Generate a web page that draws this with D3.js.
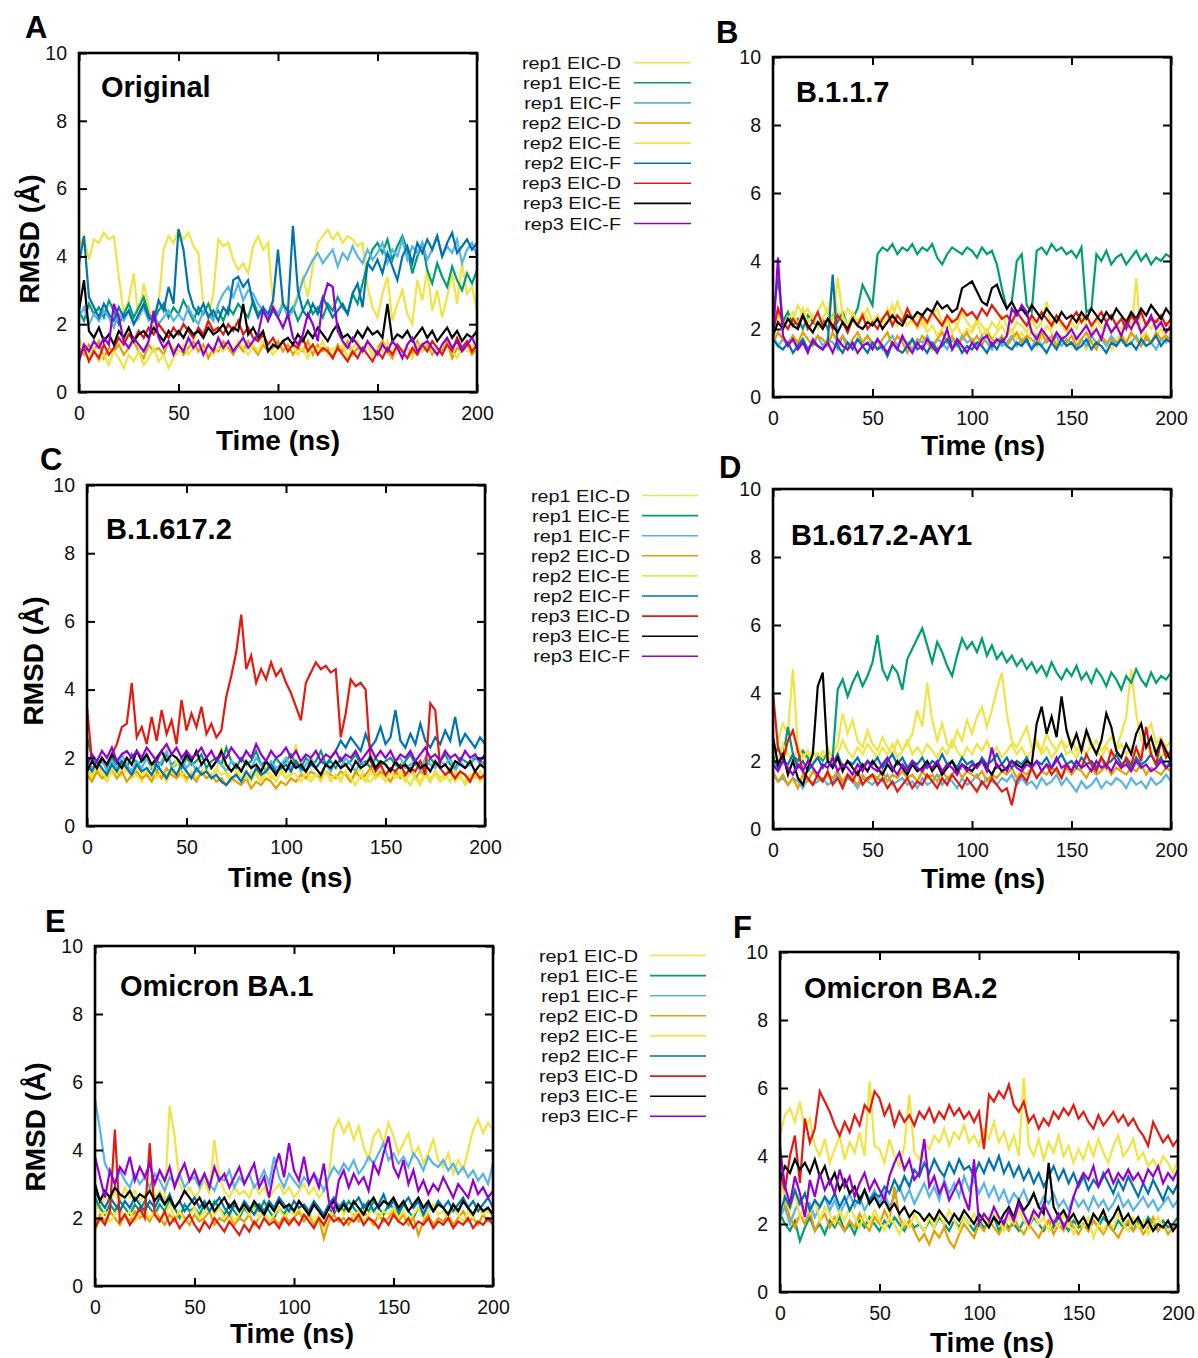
<!DOCTYPE html>
<html><head><meta charset="utf-8">
<script src="https://cdn.jsdelivr.net/npm/d3@7"></script>
<style>
body{margin:0;background:#fff;}
svg{display:block;font-family:"Liberation Sans",Arial,Helvetica,sans-serif;}
</style>
</head><body>
<svg id="chart" width="1198" height="1358"></svg>
<script>
// ---------------- data ----------------
const time = [0,2.5,5,7.5,10,12.5,15,17.5,20,22.5,25,27.5,30,32.5,35,37.5,40,42.5,45,47.5,
50,52.5,55,57.5,60,62.5,65,67.5,70,72.5,75,77.5,80,82.5,85,87.5,90,92.5,95,97.5,
100,102.5,105,107.5,110,112.5,115,117.5,120,122.5,125,127.5,130,132.5,135,137.5,140,142.5,145,147.5,
150,152.5,155,157.5,160,162.5,165,167.5,170,172.5,175,177.5,180,182.5,185,187.5,190,192.5,195,197.5,200];
const seriesNames = ["rep1 EIC-D","rep1 EIC-E","rep1 EIC-F","rep2 EIC-D","rep2 EIC-E","rep2 EIC-F","rep3 EIC-D","rep3 EIC-E","rep3 EIC-F"];
const seriesColors = ["#f0e442","#009e73","#56b4e9","#e69f00","#f0e442","#0072b2","#e41a10","#000000","#9400d3"];
const xTickValues = [0,50,100,150,200];
const yTickValues = [0,2,4,6,8,10];
const panelLetters = ["A","B","C","D","E","F"];
const panelTitles = ["Original","B.1.1.7","B.1.617.2","B1.617.2-AY1","Omicron BA.1","Omicron BA.2"];

// Panel A - Original
const A_rep1D = [4.3,4.6,3.9,4.5,4.4,4.7,4.5,4.6,3.4,2.3, 2.7,3.5,2.1,3.2,2.5,2.0,2.6,4.2,4.6,4.4, 4.8,4.5,4.7,4.3,4.1,2.6,2.2,2.9,4.5,4.3, 4.4,3.9,3.6,3.8,3.5,4.3,4.6,4.2,4.4,2.6, 2.3,2.7,2.2,2.5,2.9,3.4,2.8,3.7,4.4,4.6, 4.8,4.5,4.7,4.4,4.6,4.5,4.3,4.4,3.1,2.5, 2.2,2.9,3.4,2.1,2.6,3.0,2.3,2.0,3.3,2.7, 3.6,2.4,3.0,2.2,2.8,3.5,2.6,3.8,2.9,3.1, 2.4];
const A_rep1E = [2.4,2.1,2.6,2.3,2.5,2.2,2.7,2.4,2.0,2.3, 2.6,2.2,2.5,2.8,2.3,2.1,2.4,2.6,2.2,2.5, 2.3,2.7,2.4,2.1,2.5,2.3,2.6,2.2,2.4,2.1, 2.5,2.3,2.6,2.4,2.2,2.7,2.3,2.5,2.1,2.4, 2.2,2.6,2.3,2.5,2.1,2.4,2.7,2.3,2.5,2.2, 2.6,2.4,2.8,2.5,2.3,2.9,2.6,3.2,3.8,4.2, 4.4,4.1,4.5,3.9,4.3,4.6,4.2,3.5,4.0,4.4, 3.6,3.2,3.8,3.4,3.1,3.7,3.3,3.0,3.5,3.2, 3.6];
const A_rep1F = [2.2,2.5,2.0,2.3,2.1,2.4,2.2,1.9,2.3,2.1, 2.4,2.0,2.2,2.5,2.1,2.3,2.0,2.2,2.4,2.1, 2.3,2.1,2.5,2.2,2.0,2.4,2.3,2.1,2.6,2.9, 3.1,2.8,3.2,2.7,3.0,2.9,2.6,2.4,2.2,2.5, 2.3,2.6,2.2,2.4,2.8,3.3,3.6,3.9,4.1,3.8, 4.0,4.2,3.7,4.1,3.9,4.3,4.0,3.8,4.2,3.9, 4.1,4.4,3.8,4.2,4.0,4.5,3.9,4.3,4.1,4.4, 3.9,4.2,4.6,4.0,4.3,4.1,4.5,3.8,4.2,4.4, 4.0];
const A_rep2D = [1.3,1.1,1.4,1.2,1.5,1.0,1.3,1.2,1.4,1.1, 1.3,1.5,1.2,1.0,1.4,1.2,1.3,1.1,1.5,1.2, 1.4,1.1,1.3,1.5,1.2,1.4,1.0,1.3,1.2,1.5, 1.3,1.1,1.4,1.2,1.5,1.3,1.1,1.4,1.2,1.3, 1.5,1.2,1.4,1.1,1.3,1.2,1.5,1.1,1.4,1.2, 1.3,1.0,1.4,1.2,1.5,1.1,1.3,1.2,1.4,1.1, 1.3,1.5,1.2,1.0,1.4,1.2,1.3,1.1,1.5,1.2, 1.4,1.1,1.3,1.2,1.5,1.0,1.3,1.2,1.4,1.1, 1.3];
const A_rep2E = [1.6,1.2,1.0,1.3,0.9,1.1,0.8,1.2,1.0,0.7, 1.1,0.9,1.2,0.8,1.0,1.3,0.9,1.1,0.7,1.0, 1.2,1.4,1.1,1.3,1.5,1.2,1.4,1.1,1.3,1.2, 1.4,1.2,1.5,1.3,1.1,1.4,1.2,1.5,1.3,1.1, 1.3,1.5,1.2,1.4,1.1,1.3,1.0,1.4,1.2,1.5, 1.1,1.3,1.2,1.4,1.0,1.3,1.5,1.2,1.4,1.1, 1.3,1.2,1.5,1.1,1.4,1.2,1.3,1.0,1.4,1.2, 1.5,1.2,1.3,1.1,1.4,1.2,1.0,1.3,1.2,1.4, 1.2];
const A_rep2F = [3.8,4.6,2.8,2.5,2.2,2.6,2.3,2.1,2.5,2.2, 2.4,2.0,2.3,2.6,2.2,2.1,2.7,2.4,3.1,2.6, 4.8,4.2,3.0,2.5,2.3,2.6,2.2,2.4,2.1,2.5, 2.3,3.3,3.4,3.1,3.3,2.6,2.2,2.5,2.3,2.7, 4.2,2.6,2.4,4.9,3.0,2.4,2.2,2.6,2.3,2.8, 2.5,2.2,2.4,2.6,2.3,2.9,3.2,2.5,3.8,3.6, 3.9,3.5,4.1,3.7,3.3,4.0,4.3,3.8,4.4,4.1, 4.5,4.2,4.6,4.0,4.4,4.7,4.1,4.3,4.5,4.2, 4.4];
const A_rep3D = [1.1,1.3,0.9,1.2,1.0,1.4,1.1,1.3,1.6,1.4, 1.7,1.5,1.8,1.6,1.9,1.7,2.0,1.8,1.6,1.9, 1.7,2.0,1.8,1.6,1.9,1.7,2.1,1.8,1.9,1.7, 2.0,1.8,2.1,1.7,1.9,1.6,1.5,1.7,1.4,1.6, 1.3,1.5,1.2,1.4,1.3,1.6,1.2,1.4,1.1,1.3, 1.2,1.0,1.3,1.1,0.9,1.2,1.0,1.3,1.1,0.9, 1.2,1.0,1.3,1.1,1.4,1.2,1.0,1.3,1.1,1.4, 1.2,1.5,1.3,1.1,1.4,1.2,1.6,1.3,1.5,1.2, 1.4];
const A_rep3E = [2.4,3.3,1.8,1.6,1.9,1.5,1.7,1.4,1.8,1.6, 1.9,1.5,1.7,1.8,1.6,1.9,1.7,1.5,1.8,1.6, 1.8,1.6,1.9,1.7,1.8,1.6,1.9,1.7,1.8,2.0, 1.7,1.9,1.8,2.6,1.7,1.9,1.6,1.8,1.2,1.4, 1.3,1.5,1.6,1.4,1.7,1.5,1.8,1.6,1.9,1.7, 1.5,1.8,2.0,1.6,1.7,1.5,1.8,1.6,1.9,1.7, 1.8,1.6,2.6,1.5,1.7,1.6,1.8,1.5,1.7,1.9, 1.6,1.8,1.5,1.7,1.9,1.6,1.8,1.5,1.7,1.6, 1.8];
const A_rep3F = [0.9,1.4,1.2,1.5,1.3,1.6,1.4,2.6,2.2,1.5, 1.3,1.6,1.4,1.2,1.5,2.4,1.6,1.3,1.5,1.1, 1.4,1.2,1.6,1.3,1.5,1.1,1.4,1.2,1.6,1.3, 1.5,1.2,1.4,1.6,1.3,1.5,1.7,2.4,2.1,2.5, 2.2,1.9,2.3,1.6,1.4,1.7,2.3,2.0,1.5,2.7, 3.2,3.1,1.8,1.5,1.3,1.6,1.4,1.2,1.5,1.3, 1.1,1.4,1.2,1.5,1.3,1.0,1.4,1.6,1.2,1.4, 1.5,1.3,1.1,1.4,1.6,1.3,1.5,1.2,1.4,1.6, 1.3];

// Panel B - B.1.1.7
const B_rep1D = [2.0,2.6,2.3,2.5,2.2,2.7,2.4,2.6,2.3,2.5, 2.8,2.4,3.4,2.5,2.3,2.6,2.4,2.2,2.5,2.3, 2.1,2.4,2.2,2.6,2.3,2.8,2.4,2.1,2.3,2.0, 2.2,1.9,2.1,1.8,2.0,2.3,1.9,2.1,1.8,2.0, 1.9,2.2,1.8,2.0,1.7,1.9,2.1,1.8,2.0,1.7, 1.9,1.6,2.0,1.8,1.7,2.1,1.9,1.6,1.8,1.7, 1.5,1.8,1.6,1.4,1.7,1.5,1.8,1.6,1.4,1.7, 1.9,1.6,1.8,3.5,1.7,1.9,1.6,1.8,2.0,1.7, 1.9];
const B_rep1E = [2.4,3.5,2.2,2.5,2.1,2.3,2.0,2.4,2.2,2.1, 2.3,2.0,2.4,2.2,2.5,2.1,2.3,2.6,3.3,3.0, 2.7,4.2,4.4,4.3,4.5,4.2,4.4,4.3,4.5,4.2, 4.4,4.3,4.5,4.1,3.9,4.2,4.4,4.3,4.2,4.4, 4.3,4.1,4.4,4.2,4.3,3.9,3.2,2.6,2.8,4.0, 4.2,2.7,2.5,4.3,4.4,4.2,4.5,4.3,4.4,4.2, 4.3,4.1,4.4,2.5,2.6,4.2,4.0,4.3,3.9,4.1, 4.2,3.9,4.1,4.3,4.0,4.2,3.9,4.1,4.0,4.2, 4.1];
const B_rep1F = [1.8,1.5,1.7,1.6,1.8,1.5,1.7,1.4,1.6,1.8, 1.5,1.7,1.6,1.4,1.8,1.6,1.5,1.7,1.6,1.8, 1.5,1.7,1.4,1.6,1.8,1.5,1.7,1.6,1.4,1.7, 1.6,1.8,1.5,1.7,1.6,1.4,1.7,1.5,1.8,1.6, 1.7,1.5,1.8,1.6,1.4,1.7,1.5,1.6,1.8,1.5, 1.7,1.6,1.4,1.8,1.5,1.7,1.6,1.8,1.5,1.7, 1.6,1.4,1.7,1.5,1.8,1.6,1.7,1.5,1.8,1.6, 1.7,1.5,1.6,1.8,1.5,1.7,1.6,1.4,1.7,1.6, 1.8];
const B_rep2D = [1.6,1.9,1.7,1.5,1.8,1.6,1.9,1.7,1.5,1.8, 1.7,1.5,1.9,1.6,1.8,1.4,1.7,1.9,1.6,1.8, 1.6,1.4,1.7,1.9,1.5,1.8,1.6,1.3,1.7,1.5, 1.8,1.6,1.4,1.7,1.9,1.6,1.8,1.5,1.7,1.9, 1.6,1.8,1.5,1.9,1.7,1.6,1.8,1.5,1.7,1.9, 1.6,1.8,1.7,1.5,1.9,1.6,1.8,1.5,1.7,1.6, 1.8,1.5,1.7,1.9,1.6,1.4,1.8,1.6,1.7,1.5, 1.8,1.6,1.9,1.7,1.5,1.8,1.6,1.9,1.7,1.8, 1.6];
const B_rep2E = [2.1,2.4,2.0,2.3,2.5,2.1,2.6,2.2,2.4,2.0, 2.3,2.6,2.2,3.5,2.4,2.1,2.5,2.2,2.3,2.6, 2.2,2.4,2.0,2.3,2.7,2.1,2.3,2.5,2.2,2.4, 2.3,2.1,2.4,2.6,2.2,2.0,2.3,2.1,2.5,2.2, 2.0,2.3,2.1,1.9,2.2,2.0,2.4,2.1,1.9,2.2, 2.1,1.9,2.3,2.0,2.2,2.8,2.0,2.3,2.1,1.9, 2.2,2.0,2.4,2.1,1.9,2.3,2.0,2.2,1.9,2.1, 2.0,2.3,2.1,2.2,1.9,2.2,2.0,2.3,2.1,2.2, 2.0];
const B_rep2F = [1.7,1.5,1.4,1.6,1.3,1.5,1.7,1.4,1.6,1.5, 1.4,1.6,3.6,1.5,1.3,1.6,1.4,1.7,1.5,1.3, 1.6,1.4,1.5,1.2,1.6,1.4,1.3,1.5,1.7,1.4, 1.5,1.3,1.6,1.4,1.5,1.7,1.4,1.6,1.3,1.5, 1.4,1.6,1.5,1.3,1.6,1.4,1.7,1.5,1.4,1.6, 1.5,1.7,1.4,1.6,1.5,1.3,1.6,1.4,1.7,1.5, 1.6,1.4,1.5,1.7,1.4,1.6,1.5,1.3,1.6,1.5, 1.7,1.5,1.6,1.4,1.7,1.5,1.6,1.8,1.5,1.7, 1.6];
const B_rep3D = [1.9,2.6,2.2,2.0,2.3,2.1,2.4,2.0,2.2,2.5, 2.1,2.3,2.0,2.4,2.2,1.9,2.3,2.1,2.4,2.0, 2.2,2.0,2.3,2.5,2.1,2.4,2.2,2.6,2.3,2.1, 2.4,2.2,2.5,2.3,2.1,2.4,2.2,2.3,2.6,2.4, 2.5,2.3,2.6,2.4,2.7,2.5,2.3,2.4,2.2,2.5, 2.3,2.1,2.4,2.2,2.5,2.3,2.1,2.4,2.2,2.0, 2.3,2.5,2.2,2.4,2.1,2.3,2.5,2.2,2.4,2.1, 2.3,2.0,2.4,2.2,2.5,2.1,2.3,2.2,2.4,2.1, 2.3];
const B_rep3E = [1.8,2.2,2.0,2.3,2.1,2.0,2.4,2.1,1.9,2.2, 2.0,2.3,2.1,1.9,2.2,2.0,2.3,2.1,2.0,2.2, 2.1,2.3,2.0,2.2,2.4,2.2,2.1,2.4,2.3,2.5, 2.4,2.6,2.5,2.8,2.6,2.7,2.5,2.6,3.2,3.3, 3.4,3.1,2.8,2.7,3.2,3.3,2.9,2.6,2.8,2.5, 2.6,2.4,2.7,2.5,2.3,2.6,2.4,2.2,2.5,2.3, 2.4,2.2,2.5,2.3,2.6,2.4,2.2,2.5,2.3,2.6, 2.4,2.2,2.5,2.3,2.6,2.4,2.7,2.5,2.3,2.6, 2.4];
const B_rep3F = [1.7,4.1,1.8,1.5,1.7,1.4,1.6,1.3,1.7,1.5, 1.4,1.6,1.3,1.7,1.5,1.4,1.6,1.3,1.5,1.6, 1.4,1.7,1.5,1.3,1.6,1.4,1.8,1.5,1.3,1.6, 1.4,1.7,1.5,1.3,1.6,2.0,1.4,1.7,1.5,1.3, 1.6,1.4,1.7,1.8,1.5,1.7,1.6,1.8,2.6,2.4, 2.7,2.5,1.9,1.7,2.0,1.8,1.6,1.9,1.7,1.8, 2.0,1.7,1.9,2.1,1.8,2.0,1.7,2.2,1.9,2.1, 1.8,2.2,2.0,2.3,1.9,2.1,2.4,2.0,2.2,1.9, 2.1];

// Panel C - B.1.617.2
const C_rep1D = [1.6,1.4,1.7,1.5,1.3,1.6,1.4,1.5,1.7,1.4, 1.5,1.3,1.6,1.4,1.7,1.5,1.3,1.6,1.4,1.5, 1.3,1.6,1.4,1.5,1.7,1.4,1.6,2.3,1.5,1.3, 1.6,1.4,1.5,1.3,1.6,1.4,1.7,1.5,1.3,1.6, 1.4,1.5,2.4,1.6,1.4,1.3,1.5,1.4,1.6,1.3, 1.5,1.4,1.6,1.3,1.5,1.7,1.4,1.3,1.5,1.6, 1.4,1.3,1.5,1.6,1.4,1.2,1.5,1.3,1.6,1.4, 1.5,1.3,1.4,1.6,1.3,1.5,1.2,1.4,1.6,1.3, 1.5];
const C_rep1E = [2.6,2.0,1.8,1.9,1.7,2.0,1.8,1.9,1.7,2.1, 1.8,1.9,2.0,1.7,1.9,1.8,2.1,1.8,1.9,1.7, 2.0,1.8,1.9,2.1,1.7,1.9,2.0,1.8,2.3,1.9, 1.7,2.0,1.8,1.9,2.2,1.8,1.9,1.7,2.0,1.8, 1.9,2.1,1.8,1.7,2.0,1.8,1.9,2.2,1.8,1.9, 1.7,2.0,1.8,1.9,2.1,1.8,1.9,1.7,2.0,1.8, 1.9,2.0,1.8,1.7,1.9,2.1,1.8,1.9,1.7,2.0, 1.8,1.9,2.1,1.8,1.7,2.0,1.9,1.8,2.0,1.9, 1.8];
const C_rep1F = [1.9,1.7,1.8,2.0,1.6,1.9,1.7,2.1,1.8,1.6, 1.9,1.7,2.0,1.8,1.6,1.9,2.2,1.7,1.8,2.0, 1.7,1.9,1.6,1.8,2.0,1.7,1.9,1.8,1.6,1.9, 1.8,1.6,1.9,1.7,2.0,1.8,1.6,1.9,1.7,1.8, 2.0,1.7,1.9,1.6,1.8,2.0,1.7,1.9,1.8,1.6, 1.9,1.7,2.0,1.8,1.6,1.9,1.8,2.1,1.7,1.9, 1.8,1.6,1.9,2.0,1.7,1.8,1.9,1.6,2.0,1.8, 1.7,1.9,1.8,2.0,1.6,1.9,1.7,1.8,2.1,1.8, 1.9];
const C_rep2D = [1.5,1.3,1.6,1.4,1.5,1.7,1.4,1.6,1.3,1.5, 1.6,1.4,1.5,1.3,1.6,1.4,1.7,1.5,1.4,1.6, 1.4,1.5,1.3,1.6,1.4,1.5,1.3,1.4,1.2,1.4, 1.3,1.2,1.4,1.1,1.3,1.2,1.4,1.3,1.1,1.3, 1.2,1.4,1.3,1.5,1.4,1.6,1.5,1.4,1.6,1.5, 1.4,1.6,1.5,1.3,1.6,1.4,1.5,1.7,1.4,1.6, 1.5,1.3,1.6,1.4,1.5,1.7,1.4,1.6,1.5,1.3, 1.6,1.4,1.5,1.7,1.4,1.6,1.5,1.3,1.6,1.4, 1.5];
const C_rep2E = [1.7,1.5,1.8,1.6,1.4,1.7,1.5,1.8,1.6,1.5, 1.7,1.5,1.6,1.8,1.4,1.6,1.5,1.7,1.9,1.5, 1.6,1.4,1.7,1.5,1.6,1.4,1.7,1.5,1.6,1.4, 1.5,1.7,1.4,1.6,1.5,1.3,1.6,1.4,1.5,1.7, 1.4,1.6,1.5,1.3,1.6,1.4,1.5,1.3,1.6,1.4, 1.5,1.3,1.6,1.4,1.2,1.5,1.3,1.6,1.4,1.5, 1.3,1.6,1.4,1.5,1.3,1.6,1.4,1.2,1.5,1.3, 1.6,1.4,1.5,1.3,1.6,1.4,1.3,1.5,1.4,1.6, 1.4];
const C_rep2F = [1.8,1.6,1.9,1.7,1.5,1.8,1.6,1.9,1.7,1.5, 1.8,1.6,1.7,1.5,1.8,1.6,1.4,1.7,1.5,1.8, 1.6,1.4,1.7,1.5,1.6,1.4,1.5,1.3,1.2,1.4, 1.5,1.3,1.6,1.4,1.7,1.5,1.6,1.8,1.6,1.7, 1.8,1.6,1.9,1.7,1.6,1.8,1.7,1.9,1.8,2.0, 2.2,2.5,2.3,2.6,2.4,2.2,2.7,2.3,2.5,2.9, 2.4,2.6,3.4,2.5,2.3,2.7,2.4,3.0,2.5,2.3, 2.6,2.4,2.8,2.5,3.2,2.4,2.7,2.5,2.3,2.6, 2.4];
const C_rep3D = [3.5,1.9,1.7,2.0,1.8,2.1,2.4,2.9,3.0,4.2, 2.6,2.9,2.4,3.2,2.5,3.4,2.7,3.1,2.4,3.7, 2.8,3.3,2.9,3.5,2.7,3.0,2.6,2.8,3.8,4.4, 5.1,6.2,4.6,5.0,4.2,4.6,4.3,4.8,4.4,4.6, 4.2,3.9,3.5,3.1,4.2,4.5,4.8,4.6,4.7,4.5, 4.6,2.6,3.3,4.3,4.1,4.2,4.0,1.9,1.6,1.8, 1.5,1.7,1.6,1.8,1.5,1.7,1.6,1.9,1.5,3.6, 3.4,1.7,1.5,1.6,1.4,1.6,1.5,1.3,1.6,1.4, 1.5];
const C_rep3E = [1.6,1.9,1.7,2.0,1.8,2.1,1.9,1.7,2.0,1.8, 2.2,1.9,2.1,1.8,2.0,2.2,1.9,2.1,2.0,1.8, 2.1,1.9,2.2,1.8,2.0,1.7,1.9,2.2,1.8,1.6, 1.8,1.6,1.9,1.7,1.8,1.6,1.9,1.7,1.5,1.8, 1.6,1.9,1.7,1.8,1.6,1.9,1.7,1.5,1.8,1.7, 1.9,1.7,1.8,1.6,1.9,1.7,1.8,2.0,1.7,1.9, 1.8,1.6,1.9,1.7,1.8,1.6,1.9,1.7,1.8,1.6, 1.9,1.7,1.8,1.6,1.9,1.8,1.7,1.9,1.6,1.8, 1.7];
const C_rep3F = [1.8,2.1,1.9,2.2,2.0,2.3,1.9,2.1,2.2,2.0, 2.2,2.0,2.3,2.1,1.9,2.2,2.4,2.1,2.3,2.0, 2.2,2.0,2.1,2.3,2.0,2.2,1.9,2.1,2.0,2.3, 2.1,1.9,2.2,2.0,2.4,2.1,1.9,2.2,2.0,2.1, 2.3,2.0,2.2,1.9,2.1,2.0,2.2,1.9,2.1,2.0, 2.2,1.9,2.1,2.0,2.2,1.9,2.1,2.3,2.0,2.2, 2.0,2.2,1.9,2.1,2.0,2.2,1.9,2.1,2.3,2.0, 2.1,1.9,2.2,2.0,2.1,1.9,2.2,2.0,2.1,1.9, 2.1];

// Panel D - B1.617.2-AY1
const D_rep1D = [2.2,2.6,3.1,2.8,4.7,2.4,2.2,2.0,2.3,2.1, 2.3,2.0,2.2,2.5,3.4,2.8,3.2,2.6,2.4,2.9, 2.5,2.3,2.7,2.4,2.2,2.6,2.3,2.5,2.8,3.5, 3.0,4.3,3.2,2.6,3.1,2.5,2.4,2.9,2.6,3.2, 2.8,3.3,3.6,3.0,3.5,4.1,4.6,3.4,2.6,2.4, 2.7,3.0,2.4,2.6,2.3,2.8,2.5,2.3,2.6,2.4, 2.6,2.3,2.5,2.8,2.4,2.6,2.3,2.5,2.7,2.4, 2.8,3.3,4.7,3.4,2.6,2.8,3.1,2.5,2.7,2.4, 2.6];
const D_rep1E = [2.0,2.4,2.1,3.0,2.2,2.0,2.3,2.1,1.9,2.2, 2.0,2.3,2.1,4.1,4.4,3.9,4.3,4.6,4.2,4.5, 4.9,5.7,4.7,4.4,4.8,4.6,4.1,5.0,5.3,5.6, 5.9,5.4,4.9,5.5,5.2,4.8,4.5,5.1,5.6,5.3, 5.5,5.2,5.6,5.1,5.4,5.0,5.2,4.9,5.1,4.8, 5.0,4.7,4.9,4.6,4.8,4.5,4.9,4.6,4.4,4.7, 4.5,4.8,4.4,4.6,4.3,4.7,4.5,4.2,4.6,4.4, 4.1,4.5,4.3,4.7,4.4,4.2,4.6,4.3,4.5,4.4, 4.6];
const D_rep1F = [1.6,1.4,1.5,1.3,1.5,1.4,1.2,1.5,1.3,1.4, 1.5,1.3,1.4,1.6,1.3,1.5,1.4,1.2,1.5,1.4, 1.3,1.5,1.4,1.6,1.3,1.4,1.5,1.3,1.4,1.2, 1.5,1.3,1.4,1.6,1.3,1.5,1.4,1.2,1.5,1.3, 1.4,1.6,1.3,1.5,1.4,1.3,1.5,1.4,1.6,1.3, 1.5,1.3,1.4,1.2,1.5,1.3,1.4,1.6,1.3,1.5, 1.3,1.1,1.4,1.2,1.3,1.5,1.2,1.4,1.3,1.5, 1.4,1.2,1.5,1.3,1.4,1.2,1.5,1.3,1.4,1.6, 1.4];
const D_rep2D = [1.7,1.4,1.6,1.3,1.5,1.2,1.6,1.4,1.7,1.5, 1.4,1.6,1.5,1.7,1.4,1.6,1.5,1.3,1.6,1.4, 1.6,1.5,1.7,1.4,1.6,1.5,1.7,1.5,1.6,1.4, 1.7,1.5,1.6,1.4,1.7,1.5,1.6,1.8,1.5,1.7, 1.6,1.5,1.7,1.4,1.6,1.5,1.7,1.6,1.8,1.5, 1.7,1.6,1.8,1.5,1.7,1.6,1.8,1.7,1.5,1.8, 1.6,1.8,1.7,1.5,1.8,1.6,1.7,1.9,1.6,1.8, 1.7,1.6,1.8,1.7,1.9,1.6,1.8,1.7,1.6,1.8, 1.7];
const D_rep2E = [2.3,2.0,2.5,2.2,2.0,2.4,2.1,2.3,1.9,2.2, 2.1,2.4,2.0,2.2,2.6,2.3,2.1,2.4,2.2,2.5, 2.3,2.1,2.4,2.2,2.5,2.1,2.3,2.6,2.2,2.4, 2.2,2.5,2.3,2.1,2.4,2.2,2.6,2.3,2.1,2.4, 2.2,2.5,2.3,2.6,2.2,2.4,2.1,2.3,2.5,2.2, 2.4,2.1,2.3,2.5,2.2,2.4,2.1,2.3,2.6,2.2, 2.3,2.1,2.4,2.2,2.5,2.3,2.1,2.4,2.2,2.3, 2.5,2.2,2.4,2.1,2.3,2.5,2.2,2.4,2.1,2.3, 2.2];
const D_rep2F = [2.1,1.8,2.0,1.9,2.2,1.8,2.0,1.7,1.9,2.1, 1.8,2.0,1.9,2.2,1.8,2.0,1.9,2.1,1.8,2.0, 1.9,2.1,1.8,2.0,2.2,1.9,2.1,1.8,2.0,1.9, 2.1,1.8,2.0,1.9,2.2,1.9,2.0,1.8,2.1,1.9, 2.0,1.8,2.1,1.9,2.0,2.2,1.9,2.1,1.8,2.0, 1.9,2.1,1.8,2.0,1.9,2.1,1.8,2.0,2.2,1.9, 2.0,1.8,2.1,1.9,2.0,1.8,2.1,1.9,2.0,2.2, 1.9,2.0,1.8,2.1,1.9,2.0,2.2,1.9,2.1,1.8, 2.0];
const D_rep3D = [4.0,2.4,2.0,2.6,2.9,2.3,1.7,1.5,1.3,1.6, 1.4,1.7,1.3,1.5,1.2,1.6,1.4,1.7,1.3,1.5, 1.6,1.3,1.5,1.2,1.4,1.1,1.3,1.5,1.2,1.4, 1.3,1.6,1.4,1.2,1.5,1.3,1.6,1.4,1.2,1.5, 1.3,1.1,1.4,1.2,1.5,1.3,1.1,1.2,0.7,1.4, 1.6,1.4,1.8,1.5,1.7,1.9,1.6,1.8,1.5,1.9, 1.7,2.0,1.8,2.2,1.9,1.7,2.1,1.8,2.3,2.0, 1.8,2.1,1.9,2.4,2.0,3.0,2.2,1.9,2.6,2.1, 2.3];
const D_rep3E = [2.7,1.9,2.2,1.6,2.0,1.5,1.3,1.8,2.2,4.2, 4.6,2.0,1.8,2.1,1.7,2.0,1.8,1.6,1.9,1.7, 2.0,1.8,1.6,1.9,1.7,2.0,1.8,1.6,1.9,1.7, 1.8,2.0,1.7,1.9,1.6,1.8,2.0,1.7,1.9,1.8, 1.7,1.9,2.0,1.8,1.6,1.9,1.7,1.8,2.0,1.9, 1.8,2.0,1.9,3.1,3.6,2.8,3.3,2.7,3.9,2.9, 2.4,2.8,2.3,2.9,2.5,2.2,2.6,3.4,3.0,2.3, 2.1,2.5,2.2,2.8,3.1,2.4,2.7,2.2,2.6,2.3, 2.0];
const D_rep3F = [1.9,1.7,2.0,1.8,1.6,1.9,1.7,2.0,1.8,1.6, 1.9,1.8,2.1,1.7,1.9,1.8,1.6,1.9,1.7,2.0, 1.8,1.7,1.9,2.1,1.8,1.6,1.9,1.7,2.0,1.8, 1.7,1.9,1.8,2.0,1.7,1.9,1.8,1.6,1.9,1.7, 1.9,1.8,2.0,1.7,2.4,1.8,1.9,1.7,2.0,1.8, 1.7,1.9,1.8,2.0,1.7,1.9,1.8,2.1,1.8,1.9, 1.7,2.0,1.8,1.9,1.7,2.0,1.8,1.9,1.7,2.0, 1.8,1.9,1.7,2.0,1.8,1.9,1.7,1.8,2.0,1.8, 1.9];

// Panel E - Omicron BA.1
const E_rep1D = [2.5,2.2,2.7,2.4,2.8,2.5,2.9,2.6,2.8,2.5, 2.7,2.9,2.6,2.8,2.5,5.3,4.4,3.0,2.7,2.9, 2.6,2.8,3.1,2.7,4.3,3.2,2.8,2.6,2.9,2.7, 2.8,2.6,3.0,2.7,2.9,2.6,2.8,3.0,2.7,2.9, 2.6,2.8,3.0,2.7,2.9,2.6,2.8,3.2,4.6,4.9, 4.5,4.8,4.3,4.7,4.1,3.7,4.4,4.6,4.2,4.8, 4.4,3.9,4.2,4.5,3.8,4.1,3.6,3.9,4.3,3.7, 3.5,3.9,3.3,3.7,3.4,4.0,4.6,4.9,4.5,4.8, 4.6];
const E_rep1E = [2.6,2.3,2.1,2.4,2.2,2.5,2.3,2.1,2.4,2.2, 2.5,2.3,2.1,2.4,2.2,2.5,2.3,2.0,2.4,2.2, 2.3,2.1,2.4,2.2,2.5,2.3,2.1,2.4,2.2,2.0, 2.3,2.1,2.4,2.2,2.5,2.2,2.0,2.3,2.1,2.4, 2.2,2.5,2.3,2.1,2.4,2.2,2.0,2.3,2.1,2.4, 2.2,2.5,2.3,2.1,2.4,2.2,2.5,2.3,2.1,2.4, 2.3,2.1,2.4,2.2,2.0,2.3,2.1,2.4,2.2,2.5, 2.3,2.1,2.4,2.2,2.5,2.3,2.1,2.4,2.2,2.3, 2.1];
const E_rep1F = [5.5,4.6,3.6,3.3,3.0,3.4,3.1,2.9,3.3,3.0, 3.2,2.9,3.3,3.1,2.8,3.2,3.0,3.3,2.9,3.1, 3.2,2.9,3.3,3.0,2.8,3.2,3.1,3.4,2.9,3.2, 3.0,3.3,2.9,3.1,3.4,3.0,3.8,3.2,2.9,3.3, 3.1,2.9,3.2,3.0,3.3,3.1,2.8,3.2,3.5,3.3, 3.6,3.4,3.7,3.3,3.5,3.8,3.6,3.9,4.2,3.7, 3.9,3.6,3.8,3.5,3.9,3.7,3.4,3.8,3.6,3.5, 3.7,3.4,3.6,3.3,3.5,3.2,3.4,3.1,3.3,3.0, 3.6];
const E_rep2D = [1.8,2.1,1.9,2.2,2.0,1.8,2.1,1.9,2.2,2.0, 2.1,1.9,2.2,2.0,1.8,2.1,1.9,2.2,2.0,1.8, 2.1,1.9,2.0,2.2,1.8,2.0,1.9,2.1,1.8,2.0, 1.9,2.1,1.8,2.0,2.2,1.9,2.0,1.8,2.1,1.9, 2.0,2.2,1.9,2.1,1.8,2.0,1.4,1.9,2.1,1.9, 2.0,1.8,2.1,1.9,2.2,2.0,1.8,2.1,1.9,2.0, 2.2,1.9,2.1,1.8,2.0,1.5,1.9,2.1,1.8,2.0, 1.9,2.1,1.8,2.0,2.2,1.9,2.0,1.8,2.1,1.9, 2.0];
const E_rep2E = [1.6,2.0,2.2,1.9,2.1,2.3,2.0,2.2,1.9,2.1, 2.3,2.0,2.2,1.9,2.1,2.4,2.0,2.2,1.9,2.1, 2.3,2.0,2.2,2.5,2.1,2.3,2.0,2.2,1.9,2.1, 2.4,2.1,2.3,2.0,2.2,1.9,2.1,2.3,2.0,2.2, 2.1,2.3,2.0,2.2,1.9,2.1,1.7,2.0,2.2,2.4, 2.1,2.3,2.0,2.2,1.9,2.1,2.3,2.0,2.2,2.1, 2.3,2.0,2.2,1.9,2.1,2.3,2.0,2.2,2.4,2.1, 2.2,2.0,2.3,2.1,1.9,2.2,2.0,2.3,2.1,2.2, 2.0];
const E_rep2F = [2.8,2.5,2.3,2.6,2.4,2.2,2.5,2.3,2.6,2.4, 2.2,2.5,2.3,2.6,2.4,2.7,2.3,2.5,2.2,2.4, 2.6,2.3,2.5,2.2,2.4,2.6,2.3,2.1,2.4,2.2, 2.5,2.3,2.1,2.4,2.2,2.5,2.3,2.6,2.4,2.2, 2.5,2.3,2.4,2.2,2.5,2.3,2.1,2.4,2.6,2.3, 2.5,2.2,2.4,2.6,2.3,2.5,2.2,2.4,2.7,2.3, 2.5,2.2,2.4,2.6,2.3,2.5,2.1,2.4,2.2,2.5, 2.3,2.5,2.2,2.4,2.6,2.3,2.5,2.2,2.4,2.6, 2.3];
const E_rep3D = [1.7,2.0,1.8,2.2,4.6,1.9,2.1,1.8,2.0,2.3, 2.0,4.2,2.1,1.9,2.2,1.8,2.0,1.7,1.9,2.1, 1.8,1.6,1.9,1.7,2.0,1.8,1.6,1.9,1.7,1.5, 1.8,1.6,1.9,1.7,2.0,1.8,1.9,1.7,2.0,1.8, 2.0,1.8,2.1,1.9,1.7,2.0,1.8,2.1,1.9,2.0, 1.8,2.0,1.9,2.1,1.8,2.0,1.9,1.7,2.0,1.8, 2.1,1.9,1.8,2.0,1.7,1.9,1.8,2.0,1.7,1.9, 1.8,2.0,1.7,1.9,1.8,2.0,1.7,1.9,1.8,2.0, 1.8];
const E_rep3E = [3.0,2.5,2.8,2.6,2.9,2.7,2.6,2.8,2.5,2.7, 2.6,2.8,2.5,2.7,2.4,2.6,2.3,2.5,2.8,2.6, 2.4,2.6,2.3,2.5,2.2,2.4,2.6,2.3,2.5,2.2, 2.4,2.2,2.5,2.3,2.1,2.4,2.2,2.5,2.3,2.4, 2.2,2.5,2.3,2.1,2.4,2.2,2.0,2.3,2.5,2.2, 2.4,2.2,2.5,2.3,2.1,2.4,2.6,2.3,2.5,2.4, 2.6,2.3,2.5,2.2,2.4,2.6,2.3,2.5,2.2,2.4, 2.3,2.1,2.4,2.2,2.5,2.3,2.1,2.4,2.2,2.3, 2.1];
const E_rep3F = [3.8,3.2,2.6,3.4,3.0,3.5,3.3,3.8,3.1,3.5, 3.2,3.6,3.0,3.4,3.1,3.5,2.9,3.3,3.6,3.1, 3.4,3.0,3.3,2.9,3.5,3.1,3.3,2.9,3.2,3.5, 3.0,3.3,3.6,2.9,3.2,2.6,3.4,3.9,3.2,4.2, 3.4,3.1,3.8,3.0,3.3,2.9,3.6,2.5,2.2,3.1, 3.4,2.9,3.3,3.0,3.2,2.8,3.6,3.3,3.9,4.4, 3.5,3.2,3.7,3.0,3.4,2.8,3.1,2.7,3.0,2.8, 3.2,2.9,2.6,3.0,2.8,2.6,3.1,2.7,2.9,2.6, 2.8];

// Panel F - Omicron BA.2
const F_rep1D = [4.6,5.2,5.4,5.0,5.6,4.8,5.1,4.3,4.0,4.5, 3.8,4.2,4.6,3.9,4.4,4.1,4.7,4.0,6.2,4.3, 4.2,3.8,4.5,4.0,3.7,4.3,5.8,4.1,3.9,4.4, 4.2,4.6,4.4,4.8,4.3,4.7,4.5,4.9,4.4,4.6, 4.3,4.8,4.5,5.0,4.4,4.7,4.2,4.6,4.0,6.3, 4.3,4.0,4.5,3.9,4.4,4.1,4.6,4.0,4.3,3.8, 4.2,3.9,4.4,4.0,4.5,4.1,3.8,4.3,4.6,4.0, 4.2,4.5,3.9,4.1,3.7,3.9,3.6,4.0,3.8,3.5, 3.9];
const F_rep1E = [2.3,2.0,1.8,2.1,1.5,1.9,2.2,1.8,2.0,1.7, 2.1,1.9,2.2,1.8,2.0,1.7,2.1,1.9,2.2,2.0, 1.8,2.1,1.9,2.2,2.0,1.8,2.1,1.9,2.0,1.8, 2.1,1.9,2.2,2.0,1.8,2.1,1.9,2.2,2.0,1.8, 2.1,1.9,2.0,2.2,1.8,2.1,1.9,2.0,1.8,2.1, 1.9,2.2,2.0,1.8,2.1,1.9,2.2,2.0,1.8,2.1, 1.9,2.0,1.8,2.1,1.9,2.2,2.0,1.8,2.1,1.9, 2.0,1.8,2.1,1.9,2.2,2.0,1.8,2.1,1.9,2.0, 2.2];
const F_rep1F = [2.2,2.5,2.0,2.4,2.7,2.3,2.6,2.2,2.5,2.8, 2.4,2.7,2.3,2.6,2.9,2.5,2.8,2.4,2.7,3.0, 2.6,2.9,2.5,2.8,3.1,2.7,3.0,2.6,2.9,3.2, 2.8,3.1,2.7,3.3,2.9,3.2,2.8,3.4,3.0,3.3, 2.9,3.2,2.8,3.1,2.7,3.0,2.6,2.9,2.7,3.0, 2.6,2.9,2.5,2.8,2.6,2.9,2.5,2.7,2.4,2.8, 2.5,2.7,2.4,2.8,2.5,2.7,2.4,2.6,2.9,2.5, 2.7,2.4,2.6,2.8,2.5,2.7,2.4,2.6,2.8,2.5, 2.7];
const F_rep2D = [4.4,2.6,2.2,1.9,2.3,2.0,2.4,1.8,2.1,2.3, 1.9,2.2,2.0,1.8,2.1,1.9,2.3,2.0,1.8,2.2, 2.0,2.4,2.1,3.1,2.2,1.9,2.1,1.8,1.5,1.7, 1.4,1.8,1.6,1.9,1.5,1.3,1.7,2.0,1.8,1.6, 2.0,1.8,2.1,1.9,1.7,2.0,1.8,2.2,1.9,1.7, 2.0,1.8,1.6,1.9,2.1,1.7,2.0,1.8,2.2,1.9, 1.7,2.0,1.8,2.1,1.9,1.7,2.0,1.8,1.6,1.9, 2.1,1.8,2.0,1.7,1.9,2.2,1.8,2.0,1.7,1.9, 2.0];
const F_rep2E = [3.5,2.7,2.4,2.9,2.2,2.6,2.3,2.7,2.1,2.5, 2.3,2.0,2.4,2.1,2.5,2.2,1.9,2.3,2.0,2.4, 2.1,1.8,2.2,2.0,1.7,2.1,1.9,2.3,2.0,1.8, 2.2,1.9,2.3,2.0,2.4,2.1,1.8,2.2,2.0,2.3, 2.0,2.2,1.9,2.3,2.1,1.8,2.2,2.0,2.4,2.1, 1.9,2.3,2.0,2.2,1.8,2.1,1.9,2.3,2.0,1.7, 2.1,1.9,2.2,1.6,2.0,1.8,2.1,1.9,2.3,2.0, 1.8,2.2,1.9,2.1,1.7,2.0,2.2,1.9,2.1,1.8, 2.0];
const F_rep2F = [2.3,2.8,2.5,3.0,2.6,2.9,2.4,2.7,2.5,2.8, 2.6,2.9,2.5,2.8,2.4,2.7,2.6,3.0,2.7,2.9, 2.8,3.1,2.9,3.3,3.0,3.4,3.1,3.6,3.4,3.8, 3.5,3.9,3.6,3.4,3.8,3.5,3.9,3.6,3.7,3.4, 3.8,3.5,3.9,3.6,4.0,3.5,3.8,3.4,3.7,3.3, 3.6,3.2,3.5,3.1,3.4,3.7,3.3,3.6,3.2,3.5, 3.1,3.4,3.0,3.3,3.1,3.5,3.2,2.9,3.3,3.0, 3.4,3.1,2.8,3.2,2.9,3.3,3.0,2.7,3.1,2.9, 3.2];
const F_rep3D = [3.5,3.0,4.0,4.6,3.2,5.1,4.4,4.8,5.9,5.6, 5.3,4.9,4.6,5.0,4.7,5.2,4.9,5.5,5.3,5.9, 5.7,5.2,5.5,4.9,5.3,5.0,5.2,4.9,5.3,5.1, 5.4,5.0,5.3,5.1,5.5,5.2,5.4,5.1,5.3,5.0, 5.3,4.2,5.8,5.6,5.9,5.7,6.1,5.5,5.3,5.6, 5.0,5.2,4.8,5.1,4.9,5.3,5.1,5.4,5.2,5.5, 5.1,5.3,5.0,4.8,5.2,4.9,5.1,5.3,5.0,5.2, 4.9,5.1,4.8,4.6,4.3,5.0,4.7,4.4,4.6,4.3, 4.5];
const F_rep3E = [3.3,3.7,3.5,3.9,3.6,3.8,3.5,3.9,3.4,3.7, 3.2,3.5,3.0,3.3,2.9,3.1,2.7,3.0,2.6,2.8, 2.5,2.7,2.4,2.6,2.3,2.5,2.2,2.4,2.3,2.1, 2.3,2.1,2.4,2.2,2.0,2.3,2.1,2.4,2.2,2.0, 2.3,2.1,1.9,2.2,2.0,2.3,2.5,2.2,2.7,2.4, 2.6,2.9,2.5,2.3,3.8,2.5,2.2,2.4,2.1,2.3, 2.0,2.2,1.9,2.3,2.1,2.4,2.0,2.2,2.5,2.1, 2.3,2.0,2.2,1.9,2.1,1.8,2.0,1.9,2.1,1.8, 2.0];
const F_rep3F = [4.2,3.1,2.6,3.4,2.9,2.2,3.3,2.8,3.5,3.0, 3.3,2.9,3.6,3.1,3.4,2.8,3.2,3.5,3.0,3.3, 3.0,2.7,3.4,3.8,4.1,3.6,3.9,3.3,3.5,4.5, 3.1,3.4,2.9,3.2,2.7,3.0,3.3,2.8,2.4,3.9, 2.0,2.3,2.1,2.5,2.2,2.0,2.4,2.1,2.6,2.3, 2.0,2.4,2.2,2.6,2.3,2.0,2.3,1.9,2.2,2.8, 3.2,3.5,3.3,3.7,3.1,3.4,3.6,3.2,3.5,3.3, 3.6,3.3,3.5,3.2,3.6,3.4,3.7,3.2,3.5,3.3, 3.6];

const panelSeries = [
  [A_rep1D,A_rep1E,A_rep1F,A_rep2D,A_rep2E,A_rep2F,A_rep3D,A_rep3E,A_rep3F],
  [B_rep1D,B_rep1E,B_rep1F,B_rep2D,B_rep2E,B_rep2F,B_rep3D,B_rep3E,B_rep3F],
  [C_rep1D,C_rep1E,C_rep1F,C_rep2D,C_rep2E,C_rep2F,C_rep3D,C_rep3E,C_rep3F],
  [D_rep1D,D_rep1E,D_rep1F,D_rep2D,D_rep2E,D_rep2F,D_rep3D,D_rep3E,D_rep3F],
  [E_rep1D,E_rep1E,E_rep1F,E_rep2D,E_rep2E,E_rep2F,E_rep3D,E_rep3E,E_rep3F],
  [F_rep1D,F_rep1E,F_rep1F,F_rep2D,F_rep2E,F_rep2F,F_rep3D,F_rep3E,F_rep3F]
];

// ---------------- layout ----------------
const layout = [
  {l:79,  r:477,  t:53,  b:392,  letter:[25,38],   title:[101,97],   ylab:[29,239],  xlab:[278,450]},
  {l:773, r:1171, t:57,  b:397,  letter:[716,43],  title:[796,102],  ylab:null,      xlab:[983,455]},
  {l:87,  r:485,  t:485, b:826,  letter:[40,470],  title:[106,539],  ylab:[33,661],  xlab:[290,887]},
  {l:773, r:1171, t:489, b:829,  letter:[719,478], title:[791,545],  ylab:null,      xlab:[983,888]},
  {l:95,  r:493,  t:946, b:1286, letter:[45,932],  title:[120,996],  ylab:[35,1127], xlab:[292,1343]},
  {l:780, r:1178, t:952, b:1292, letter:[733,938], title:[804,998],  ylab:null,      xlab:[992,1352]}
];
const legends = [
  {textRight:621, lineX0:634, lineX1:691, y0:62.7},
  {textRight:630, lineX0:642, lineX1:698, y0:495.5},
  {textRight:638, lineX0:650, lineX1:706, y0:955.5}
];

const svg = d3.select("#chart");

panelSeries.forEach((series, p) => {
  const L = layout[p];
  const x = d3.scaleLinear().domain([0,200]).range([L.l, L.r]);
  const y = d3.scaleLinear().domain([0,10]).range([L.b, L.t]);
  const g = svg.append("g");

  const clipId = "clip" + p;
  svg.append("clipPath").attr("id", clipId).append("rect")
    .attr("x", L.l).attr("y", L.t).attr("width", L.r - L.l).attr("height", L.b - L.t);

  const line = d3.line()
    .defined((d,i) => i < time.length && d != null)
    .x((d,i) => x(time[i]))
    .y(d => y(d));

  const lg = g.append("g").attr("clip-path", `url(#${clipId})`);
  series.forEach((vals, s) => {
    lg.append("path")
      .attr("d", line(vals))
      .attr("fill", "none")
      .attr("stroke", seriesColors[s])
      .attr("stroke-width", 2.2)
      .attr("stroke-linejoin", "miter");
  });

  // axes (inward ticks, mirrored)
  const tickStyle = sel => {
    sel.select(".domain").remove();
    sel.selectAll(".tick line").attr("stroke", "#000").attr("stroke-width", 2);
    sel.selectAll(".tick text").attr("font-size", 19.5).attr("fill", "#111")
      .attr("font-family", "Liberation Sans, Arial, sans-serif");
  };
  g.append("g").attr("transform", `translate(0,${L.b})`)
    .call(d3.axisBottom(x).tickValues(xTickValues).tickSizeInner(-8).tickSizeOuter(0).tickPadding(14))
    .call(tickStyle);
  g.append("g").attr("transform", `translate(0,${L.t})`)
    .call(d3.axisTop(x).tickValues(xTickValues).tickSizeInner(-8).tickSizeOuter(0).tickFormat(""))
    .call(tickStyle);
  g.append("g").attr("transform", `translate(${L.l},0)`)
    .call(d3.axisLeft(y).tickValues(yTickValues).tickSizeInner(-8).tickSizeOuter(0).tickPadding(12))
    .call(tickStyle);
  g.append("g").attr("transform", `translate(${L.r},0)`)
    .call(d3.axisRight(y).tickValues(yTickValues).tickSizeInner(-8).tickSizeOuter(0).tickFormat(""))
    .call(tickStyle);

  // frame
  g.append("rect")
    .attr("x", L.l).attr("y", L.t).attr("width", L.r - L.l).attr("height", L.b - L.t)
    .attr("fill", "none").attr("stroke", "#000").attr("stroke-width", 2.6);

  // texts
  g.append("text").attr("x", L.letter[0]).attr("y", L.letter[1])
    .attr("font-size", 31).attr("font-weight", "bold").text(panelLetters[p]);
  g.append("text").attr("x", L.title[0]).attr("y", L.title[1])
    .attr("font-size", 29).attr("font-weight", "bold").text(panelTitles[p]);
  g.append("text").attr("x", L.xlab[0]).attr("y", L.xlab[1])
    .attr("text-anchor", "middle").attr("font-size", 28).attr("font-weight", "bold")
    .text("Time (ns)");
  if (L.ylab) {
    g.append("text")
      .attr("transform", `translate(${L.ylab[0]},${L.ylab[1]}) rotate(-90)`)
      .attr("text-anchor", "middle").attr("dy", "0.36em")
      .attr("font-size", 28).attr("font-weight", "bold")
      .text("RMSD (Å)");
  }
});

// legends
legends.forEach(Lg => {
  const g = svg.append("g");
  seriesNames.forEach((name, i) => {
    const yy = Lg.y0 + i * 20.1;
    g.append("text")
      .attr("transform", `translate(${Lg.textRight},${yy + 6}) scale(1.2,1)`)
      .attr("text-anchor", "end").attr("font-size", 16.5).attr("fill", "#111")
      .text(name);
    g.append("line")
      .attr("x1", Lg.lineX0).attr("x2", Lg.lineX1).attr("y1", yy).attr("y2", yy)
      .attr("stroke", seriesColors[i]).attr("stroke-width", 1.6);
  });
});
</script>
</body></html>
